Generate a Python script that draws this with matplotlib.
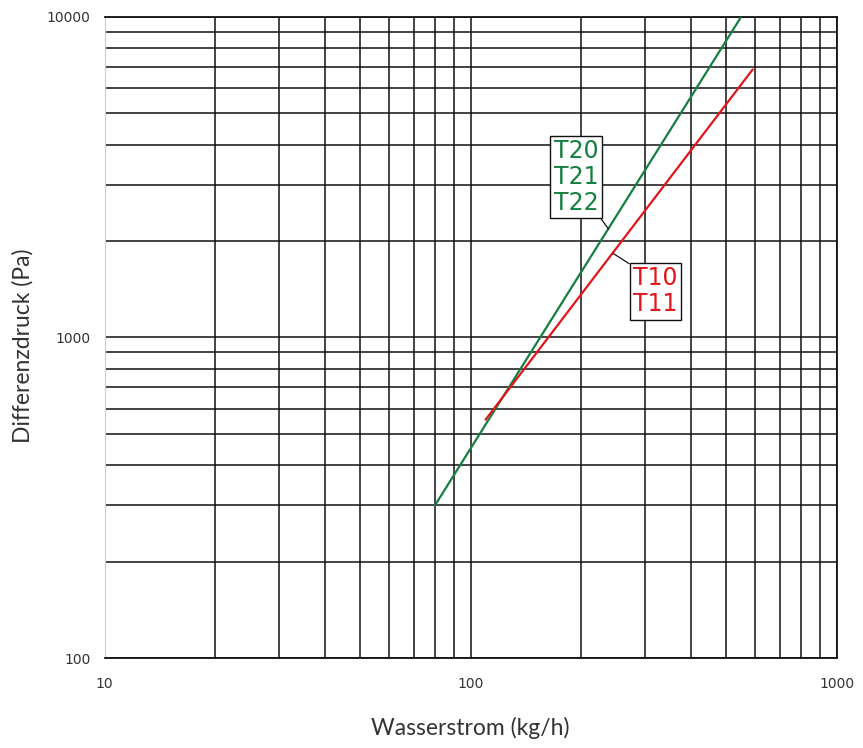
import matplotlib
matplotlib.use('Agg')
import matplotlib.pyplot as plt
from matplotlib.ticker import FixedLocator, FuncFormatter, LogLocator, NullFormatter

# Kennlinien (Wasserstrom kg/h -> Differenzdruck Pa)
green_flow = [80, 548]
green_dp = [300, 10000]
red_flow = [110, 589]
red_dp = [555, 6850]

green_label = "T20\nT21\nT22"
red_label = "T10\nT11"

x_ticks = [10, 100, 1000]
y_ticks = [100, 1000, 10000]

GREEN = '#148040'
RED = '#e1141c'

fig = plt.figure(figsize=(8.63, 7.48), dpi=100)
ax = fig.add_axes([0.1211, 0.1203, 0.8484, 0.8570])

ax.set_xscale('log')
ax.set_yscale('log')
ax.set_xlim(10, 1000)
ax.set_ylim(100, 10000)

ax.xaxis.set_major_locator(FixedLocator(x_ticks))
ax.yaxis.set_major_locator(FixedLocator(y_ticks))
ax.xaxis.set_minor_locator(LogLocator(base=10, subs=range(2, 10)))
ax.yaxis.set_minor_locator(LogLocator(base=10, subs=range(2, 10)))
ax.xaxis.set_minor_formatter(NullFormatter())
ax.yaxis.set_minor_formatter(NullFormatter())
fmt = FuncFormatter(lambda v, p: f"{int(round(v))}")
ax.xaxis.set_major_formatter(fmt)
ax.yaxis.set_major_formatter(fmt)

ax.grid(True, which='both', color='#111111', linewidth=1.1)
ax.tick_params(which='both', length=0)
ax.tick_params(axis='x', pad=14, labelsize=10, labelcolor='#333333')
ax.tick_params(axis='y', pad=10, labelsize=10, labelcolor='#333333')

for side in ['top', 'right', 'bottom']:
    ax.spines[side].set_color('#111111')
    ax.spines[side].set_linewidth(1.3)
ax.spines['left'].set_color('#cccccc')

ax.plot(green_flow, green_dp, color=GREEN, linewidth=1.6, zorder=3)
ax.plot(red_flow, red_dp, color=RED, linewidth=1.6, zorder=3)

box = dict(boxstyle='square,pad=0.15', fc='white', ec='#111111', lw=1.0)
ax.annotate(green_label, xy=(238, 2180), xytext=(194, 3168), color=GREEN,
            fontsize=17, ha='center', va='center', linespacing=1.1, bbox=box,
            arrowprops=dict(arrowstyle='-', color='#111111', lw=0.9,
                            relpos=(1, 0), shrinkA=0, shrinkB=0), zorder=4)
ax.annotate(red_label, xy=(245, 1830), xytext=(320, 1394), color=RED,
            fontsize=17, ha='center', va='center', linespacing=1.1, bbox=box,
            arrowprops=dict(arrowstyle='-', color='#111111', lw=0.9,
                            relpos=(0, 1), shrinkA=0, shrinkB=0), zorder=4)

ax.set_xlabel('Wasserstrom (kg/h)', fontsize=16.5, family='Lato', fontweight='normal',
              color='#333333', labelpad=18)
ax.set_ylabel('Differenzdruck (Pa)', fontsize=16.5, family='Lato', fontweight='normal',
              color='#333333')
ax.yaxis.set_label_coords(-0.097, 0.487)

fig.savefig('out.png', dpi=100)
